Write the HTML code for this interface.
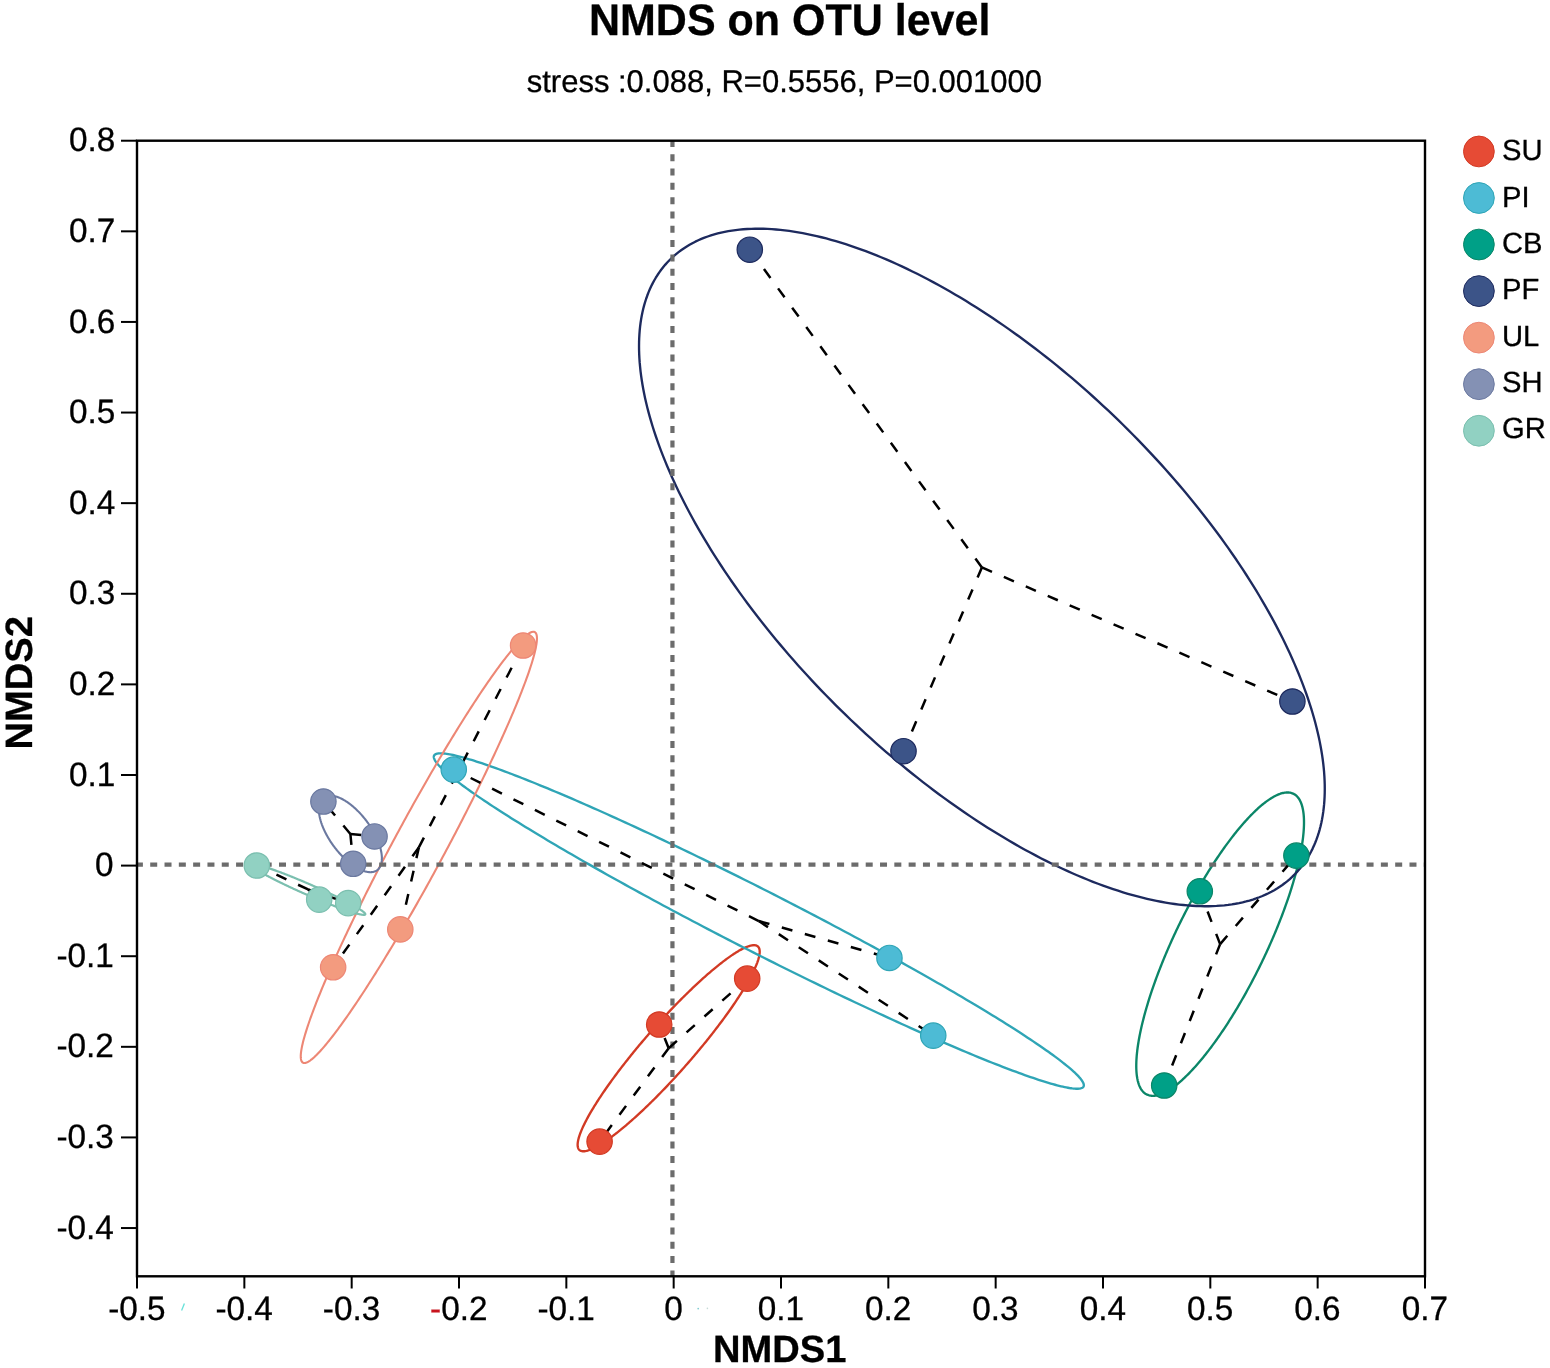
<!DOCTYPE html><html><head><meta charset="utf-8"><title>NMDS on OTU level</title><style>html,body{margin:0;padding:0;background:#fff;overflow:hidden;}svg{display:block;}text{font-family:"Liberation Sans",Arial,sans-serif;stroke:#000;stroke-width:0.3px;}</style></head><body>
<svg width="1550" height="1368" viewBox="0 0 1550 1368" text-rendering="geometricPrecision">
<rect width="1550" height="1368" fill="#fff"/>
<text transform="translate(589,34.9) scale(1,1.027)" font-size="43" font-weight="bold" fill="#000">NMDS on OTU level</text>
<text transform="translate(526.7,91.6) scale(1,1.015)" font-size="31" fill="#000">stress :0.088, R=0.5556, P=0.001000</text>
<path d="M759.70,951.71 L759.69,952.29 L759.66,952.89 L759.60,953.51 L759.52,954.16 L759.42,954.84 L759.30,955.53 L759.15,956.25 L758.98,956.99 L758.79,957.75 L758.58,958.54 L758.35,959.35 L758.09,960.18 L757.81,961.03 L757.51,961.90 L757.19,962.80 L756.84,963.71 L756.48,964.65 L756.09,965.61 L755.68,966.58 L755.25,967.58 L754.79,968.60 L754.32,969.63 L753.83,970.69 L753.31,971.77 L752.77,972.86 L752.21,973.97 L751.64,975.11 L751.04,976.25 L750.42,977.42 L749.78,978.61 L749.12,979.81 L748.44,981.03 L747.74,982.26 L747.02,983.51 L746.29,984.78 L745.53,986.06 L744.75,987.36 L743.96,988.68 L743.15,990.01 L742.32,991.35 L741.47,992.70 L740.60,994.07 L739.71,995.46 L738.81,996.86 L737.89,998.26 L736.95,999.69 L736.00,1001.12 L735.03,1002.57 L734.04,1004.02 L733.04,1005.49 L732.02,1006.97 L730.98,1008.46 L729.93,1009.95 L728.87,1011.46 L727.79,1012.98 L726.69,1014.50 L725.59,1016.04 L724.46,1017.58 L723.33,1019.13 L722.18,1020.68 L721.01,1022.25 L719.84,1023.82 L718.65,1025.39 L717.45,1026.97 L716.23,1028.56 L715.01,1030.15 L713.77,1031.75 L712.52,1033.35 L711.26,1034.95 L710.00,1036.56 L708.72,1038.17 L707.43,1039.78 L706.13,1041.39 L704.82,1043.01 L703.50,1044.63 L702.18,1046.24 L700.85,1047.86 L699.50,1049.48 L698.15,1051.10 L696.80,1052.72 L695.43,1054.33 L694.06,1055.95 L692.69,1057.56 L691.31,1059.17 L689.92,1060.78 L688.53,1062.38 L687.13,1063.99 L685.72,1065.58 L684.32,1067.18 L682.91,1068.77 L681.49,1070.35 L680.08,1071.93 L678.66,1073.50 L677.23,1075.07 L675.81,1076.63 L674.38,1078.18 L672.96,1079.72 L671.53,1081.26 L670.10,1082.79 L668.67,1084.31 L667.24,1085.82 L665.81,1087.32 L664.38,1088.82 L662.95,1090.30 L661.52,1091.77 L660.10,1093.23 L658.68,1094.68 L657.26,1096.12 L655.84,1097.55 L654.43,1098.97 L653.02,1100.37 L651.61,1101.76 L650.21,1103.13 L648.81,1104.50 L647.41,1105.85 L646.03,1107.18 L644.64,1108.50 L643.27,1109.81 L641.90,1111.10 L640.54,1112.37 L639.18,1113.63 L637.83,1114.87 L636.49,1116.10 L635.15,1117.31 L633.83,1118.50 L632.51,1119.68 L631.20,1120.84 L629.91,1121.98 L628.62,1123.10 L627.34,1124.20 L626.07,1125.28 L624.81,1126.35 L623.56,1127.40 L622.33,1128.42 L621.10,1129.43 L619.89,1130.42 L618.69,1131.38 L617.50,1132.33 L616.32,1133.25 L615.16,1134.16 L614.01,1135.04 L612.87,1135.90 L611.75,1136.74 L610.64,1137.56 L609.54,1138.35 L608.46,1139.13 L607.40,1139.88 L606.35,1140.61 L605.31,1141.31 L604.29,1142.00 L603.29,1142.66 L602.30,1143.29 L601.33,1143.91 L600.38,1144.50 L599.44,1145.06 L598.52,1145.60 L597.62,1146.12 L596.73,1146.62 L595.87,1147.08 L595.02,1147.53 L594.19,1147.95 L593.37,1148.35 L592.58,1148.72 L591.80,1149.06 L591.05,1149.39 L590.31,1149.68 L589.59,1149.95 L588.89,1150.20 L588.21,1150.42 L587.55,1150.62 L586.91,1150.79 L586.30,1150.93 L585.70,1151.05 L585.12,1151.15 L584.56,1151.22 L584.02,1151.26 L583.51,1151.28 L583.01,1151.27 L582.54,1151.24 L582.09,1151.18 L581.66,1151.10 L581.25,1150.99 L580.86,1150.86 L580.49,1150.70 L580.15,1150.51 L579.82,1150.30 L579.52,1150.07 L579.24,1149.81 L578.99,1149.52 L578.75,1149.21 L578.54,1148.88 L578.35,1148.52 L578.18,1148.14 L578.04,1147.73 L577.91,1147.29 L577.81,1146.83 L577.73,1146.35 L577.68,1145.84 L577.64,1145.31 L577.63,1144.76 L577.64,1144.18 L577.68,1143.58 L577.73,1142.95 L577.81,1142.30 L577.91,1141.63 L578.04,1140.94 L578.18,1140.22 L578.35,1139.48 L578.54,1138.71 L578.75,1137.93 L578.99,1137.12 L579.24,1136.29 L579.52,1135.44 L579.82,1134.56 L580.15,1133.67 L580.49,1132.75 L580.86,1131.82 L581.25,1130.86 L581.66,1129.88 L582.09,1128.89 L582.54,1127.87 L583.01,1126.83 L583.51,1125.78 L584.02,1124.70 L584.56,1123.61 L585.12,1122.49 L585.70,1121.36 L586.30,1120.21 L586.91,1119.04 L587.55,1117.86 L588.21,1116.66 L588.89,1115.44 L589.59,1114.20 L590.31,1112.95 L591.05,1111.69 L591.80,1110.40 L592.58,1109.10 L593.37,1107.79 L594.19,1106.46 L595.02,1105.12 L595.87,1103.76 L596.73,1102.39 L597.62,1101.01 L598.52,1099.61 L599.44,1098.20 L600.38,1096.78 L601.33,1095.35 L602.30,1093.90 L603.29,1092.44 L604.29,1090.98 L605.31,1089.50 L606.35,1088.01 L607.40,1086.51 L608.46,1085.01 L609.54,1083.49 L610.64,1081.96 L611.75,1080.43 L612.87,1078.89 L614.01,1077.34 L615.16,1075.78 L616.32,1074.22 L617.50,1072.65 L618.69,1071.08 L619.89,1069.49 L621.10,1067.91 L622.33,1066.32 L623.56,1064.72 L624.81,1063.12 L626.07,1061.52 L627.34,1059.91 L628.62,1058.30 L629.91,1056.69 L631.20,1055.07 L632.51,1053.46 L633.83,1051.84 L635.15,1050.22 L636.49,1048.61 L637.83,1046.99 L639.18,1045.37 L640.54,1043.75 L641.90,1042.13 L643.27,1040.52 L644.64,1038.91 L646.03,1037.29 L647.41,1035.69 L648.81,1034.08 L650.21,1032.48 L651.61,1030.88 L653.02,1029.29 L654.43,1027.70 L655.84,1026.12 L657.26,1024.54 L658.68,1022.97 L660.10,1021.40 L661.52,1019.84 L662.95,1018.29 L664.38,1016.74 L665.81,1015.21 L667.24,1013.68 L668.67,1012.16 L670.10,1010.64 L671.53,1009.14 L672.96,1007.65 L674.38,1006.17 L675.81,1004.69 L677.23,1003.23 L678.66,1001.78 L680.08,1000.34 L681.49,998.92 L682.91,997.50 L684.32,996.10 L685.72,994.71 L687.13,993.33 L688.53,991.97 L689.92,990.62 L691.31,989.28 L692.69,987.96 L694.06,986.66 L695.43,985.37 L696.80,984.09 L698.15,982.84 L699.50,981.59 L700.85,980.37 L702.18,979.16 L703.50,977.96 L704.82,976.79 L706.13,975.63 L707.43,974.49 L708.72,973.37 L710.00,972.27 L711.26,971.18 L712.52,970.12 L713.77,969.07 L715.01,968.04 L716.23,967.04 L717.45,966.05 L718.65,965.09 L719.84,964.14 L721.01,963.21 L722.18,962.31 L723.33,961.43 L724.46,960.57 L725.59,959.73 L726.69,958.91 L727.79,958.11 L728.87,957.34 L729.93,956.59 L730.98,955.86 L732.02,955.15 L733.04,954.47 L734.04,953.81 L735.03,953.17 L736.00,952.56 L736.95,951.97 L737.89,951.40 L738.81,950.86 L739.71,950.34 L740.60,949.85 L741.47,949.38 L742.32,948.94 L743.15,948.52 L743.96,948.12 L744.75,947.75 L745.53,947.40 L746.29,947.08 L747.02,946.78 L747.74,946.51 L748.44,946.27 L749.12,946.05 L749.78,945.85 L750.42,945.68 L751.04,945.53 L751.64,945.41 L752.21,945.32 L752.77,945.25 L753.31,945.21 L753.83,945.19 L754.32,945.19 L754.79,945.23 L755.25,945.28 L755.68,945.37 L756.09,945.48 L756.48,945.61 L756.84,945.77 L757.19,945.95 L757.51,946.16 L757.81,946.40 L758.09,946.66 L758.35,946.94 L758.58,947.25 L758.79,947.59 L758.98,947.95 L759.15,948.33 L759.30,948.74 L759.42,949.17 L759.52,949.63 L759.60,950.12 L759.66,950.62 L759.69,951.15 L759.70,951.71Z" fill="none" stroke="#D23A24" stroke-width="2.35" stroke-linejoin="round"/>
<path d="M1083.83,1085.23 L1083.79,1085.75 L1083.67,1086.23 L1083.47,1086.66 L1083.19,1087.05 L1082.83,1087.41 L1082.39,1087.72 L1081.87,1087.99 L1081.27,1088.22 L1080.59,1088.41 L1079.83,1088.56 L1078.99,1088.66 L1078.07,1088.73 L1077.08,1088.75 L1076.00,1088.73 L1074.85,1088.67 L1073.62,1088.57 L1072.31,1088.43 L1070.93,1088.24 L1069.46,1088.02 L1067.92,1087.75 L1066.31,1087.44 L1064.62,1087.10 L1062.85,1086.71 L1061.01,1086.28 L1059.09,1085.81 L1057.10,1085.29 L1055.04,1084.74 L1052.90,1084.15 L1050.69,1083.52 L1048.41,1082.84 L1046.05,1082.13 L1043.63,1081.38 L1041.13,1080.59 L1038.57,1079.76 L1035.94,1078.88 L1033.24,1077.98 L1030.47,1077.03 L1027.63,1076.04 L1024.73,1075.02 L1021.76,1073.95 L1018.73,1072.85 L1015.63,1071.71 L1012.47,1070.54 L1009.24,1069.33 L1005.96,1068.08 L1002.61,1066.79 L999.21,1065.47 L995.74,1064.11 L992.22,1062.72 L988.64,1061.30 L985.00,1059.83 L981.30,1058.34 L977.56,1056.81 L973.75,1055.25 L969.90,1053.65 L965.99,1052.02 L962.03,1050.36 L958.02,1048.67 L953.96,1046.94 L949.86,1045.19 L945.70,1043.40 L941.50,1041.58 L937.26,1039.74 L932.97,1037.86 L928.64,1035.96 L924.26,1034.02 L919.85,1032.06 L915.39,1030.07 L910.90,1028.06 L906.37,1026.02 L901.80,1023.95 L897.20,1021.86 L892.56,1019.74 L887.90,1017.60 L883.19,1015.43 L878.46,1013.24 L873.70,1011.03 L868.91,1008.80 L864.09,1006.54 L859.25,1004.27 L854.38,1001.97 L849.49,999.65 L844.58,997.32 L839.64,994.96 L834.69,992.59 L829.72,990.20 L824.73,987.79 L819.72,985.36 L814.70,982.92 L809.66,980.47 L804.61,978.00 L799.55,975.51 L794.48,973.01 L789.40,970.50 L784.32,967.98 L779.22,965.44 L774.13,962.90 L769.03,960.34 L763.92,957.78 L758.82,955.20 L753.71,952.62 L748.61,950.03 L743.51,947.43 L738.41,944.83 L733.32,942.22 L728.23,939.60 L723.15,936.98 L718.08,934.36 L713.02,931.73 L707.97,929.10 L702.94,926.47 L697.92,923.83 L692.91,921.20 L687.92,918.56 L682.94,915.93 L677.99,913.30 L673.05,910.67 L668.14,908.04 L663.25,905.42 L658.38,902.80 L653.54,900.18 L648.72,897.57 L643.93,894.96 L639.17,892.36 L634.44,889.77 L629.74,887.19 L625.07,884.61 L620.43,882.05 L615.83,879.49 L611.26,876.94 L606.73,874.41 L602.24,871.88 L597.79,869.37 L593.37,866.87 L589.00,864.38 L584.67,861.91 L580.38,859.45 L576.13,857.01 L571.93,854.59 L567.78,852.18 L563.67,849.78 L559.61,847.41 L555.60,845.05 L551.64,842.71 L547.74,840.39 L543.88,838.09 L540.08,835.81 L536.33,833.55 L532.63,831.32 L529.00,829.10 L525.42,826.91 L521.89,824.74 L518.43,822.60 L515.02,820.48 L511.67,818.38 L508.39,816.31 L505.17,814.27 L502.00,812.25 L498.91,810.26 L495.87,808.30 L492.91,806.36 L490.00,804.45 L487.17,802.57 L484.40,800.72 L481.70,798.90 L479.06,797.12 L476.50,795.36 L474.00,793.63 L471.58,791.93 L469.23,790.27 L466.94,788.63 L464.73,787.03 L462.60,785.47 L460.53,783.93 L458.54,782.43 L456.63,780.97 L454.78,779.54 L453.02,778.14 L451.33,776.78 L449.71,775.46 L448.17,774.17 L446.71,772.91 L445.32,771.70 L444.01,770.52 L442.78,769.38 L441.63,768.27 L440.55,767.20 L439.56,766.17 L438.64,765.18 L437.80,764.23 L437.04,763.32 L436.36,762.44 L435.76,761.61 L435.24,760.81 L434.80,760.05 L434.44,759.33 L434.16,758.66 L433.96,758.02 L433.84,757.42 L433.80,756.87 L433.84,756.35 L433.96,755.87 L434.16,755.44 L434.44,755.05 L434.80,754.69 L435.24,754.38 L435.76,754.11 L436.36,753.88 L437.04,753.69 L437.80,753.54 L438.64,753.44 L439.56,753.37 L440.55,753.35 L441.63,753.37 L442.78,753.43 L444.01,753.53 L445.32,753.67 L446.71,753.86 L448.17,754.08 L449.71,754.35 L451.33,754.66 L453.02,755.00 L454.78,755.39 L456.63,755.82 L458.54,756.29 L460.53,756.81 L462.60,757.36 L464.73,757.95 L466.94,758.58 L469.23,759.26 L471.58,759.97 L474.00,760.72 L476.50,761.51 L479.06,762.34 L481.70,763.22 L484.40,764.12 L487.17,765.07 L490.00,766.06 L492.91,767.08 L495.87,768.15 L498.91,769.25 L502.00,770.39 L505.17,771.56 L508.39,772.77 L511.67,774.02 L515.02,775.31 L518.43,776.63 L521.89,777.99 L525.42,779.38 L529.00,780.80 L532.63,782.27 L536.33,783.76 L540.08,785.29 L543.88,786.85 L547.74,788.45 L551.64,790.08 L555.60,791.74 L559.61,793.43 L563.67,795.16 L567.78,796.91 L571.93,798.70 L576.13,800.52 L580.38,802.36 L584.67,804.24 L589.00,806.14 L593.37,808.08 L597.79,810.04 L602.24,812.03 L606.73,814.04 L611.26,816.08 L615.83,818.15 L620.43,820.24 L625.07,822.36 L629.74,824.50 L634.44,826.67 L639.17,828.86 L643.93,831.07 L648.72,833.30 L653.54,835.56 L658.38,837.83 L663.25,840.13 L668.14,842.45 L673.05,844.78 L677.99,847.14 L682.94,849.51 L687.92,851.90 L692.91,854.31 L697.92,856.74 L702.94,859.18 L707.97,861.63 L713.02,864.10 L718.08,866.59 L723.15,869.09 L728.23,871.60 L733.32,874.12 L738.41,876.66 L743.51,879.20 L748.61,881.76 L753.71,884.32 L758.82,886.90 L763.92,889.48 L769.03,892.07 L774.13,894.67 L779.22,897.27 L784.32,899.88 L789.40,902.50 L794.48,905.12 L799.55,907.74 L804.61,910.37 L809.66,913.00 L814.70,915.63 L819.72,918.27 L824.73,920.90 L829.72,923.54 L834.69,926.17 L839.64,928.80 L844.58,931.43 L849.49,934.06 L854.38,936.68 L859.25,939.30 L864.09,941.92 L868.91,944.53 L873.70,947.14 L878.46,949.74 L883.19,952.33 L887.90,954.91 L892.56,957.49 L897.20,960.05 L901.80,962.61 L906.37,965.16 L910.90,967.69 L915.39,970.22 L919.85,972.73 L924.26,975.23 L928.64,977.72 L932.97,980.19 L937.26,982.65 L941.50,985.09 L945.70,987.51 L949.86,989.92 L953.96,992.32 L958.02,994.69 L962.03,997.05 L965.99,999.39 L969.90,1001.71 L973.75,1004.01 L977.56,1006.29 L981.30,1008.55 L985.00,1010.78 L988.64,1013.00 L992.22,1015.19 L995.74,1017.36 L999.21,1019.50 L1002.61,1021.62 L1005.96,1023.72 L1009.24,1025.79 L1012.47,1027.83 L1015.63,1029.85 L1018.73,1031.84 L1021.76,1033.80 L1024.73,1035.74 L1027.63,1037.65 L1030.47,1039.53 L1033.24,1041.38 L1035.94,1043.20 L1038.57,1044.98 L1041.13,1046.74 L1043.63,1048.47 L1046.05,1050.17 L1048.41,1051.83 L1050.69,1053.47 L1052.90,1055.07 L1055.04,1056.63 L1057.10,1058.17 L1059.09,1059.67 L1061.01,1061.13 L1062.85,1062.56 L1064.62,1063.96 L1066.31,1065.32 L1067.92,1066.64 L1069.46,1067.93 L1070.93,1069.19 L1072.31,1070.40 L1073.62,1071.58 L1074.85,1072.72 L1076.00,1073.83 L1077.08,1074.90 L1078.07,1075.93 L1078.99,1076.92 L1079.83,1077.87 L1080.59,1078.78 L1081.27,1079.66 L1081.87,1080.49 L1082.39,1081.29 L1082.83,1082.05 L1083.19,1082.77 L1083.47,1083.44 L1083.67,1084.08 L1083.79,1084.68 L1083.83,1085.23Z" fill="none" stroke="#2FA5B6" stroke-width="2.35" stroke-linejoin="round"/>
<path d="M1304.00,822.39 L1303.99,823.83 L1303.96,825.30 L1303.91,826.79 L1303.83,828.32 L1303.74,829.87 L1303.63,831.45 L1303.49,833.06 L1303.34,834.70 L1303.16,836.36 L1302.97,838.05 L1302.75,839.76 L1302.51,841.51 L1302.26,843.27 L1301.98,845.06 L1301.68,846.88 L1301.36,848.72 L1301.03,850.59 L1300.67,852.47 L1300.29,854.38 L1299.89,856.31 L1299.48,858.27 L1299.04,860.24 L1298.58,862.24 L1298.11,864.25 L1297.61,866.29 L1297.10,868.34 L1296.57,870.42 L1296.02,872.51 L1295.45,874.62 L1294.86,876.74 L1294.25,878.88 L1293.62,881.04 L1292.98,883.22 L1292.32,885.41 L1291.64,887.61 L1290.94,889.83 L1290.23,892.06 L1289.50,894.30 L1288.75,896.56 L1287.98,898.83 L1287.20,901.11 L1286.40,903.40 L1285.58,905.70 L1284.75,908.01 L1283.90,910.33 L1283.04,912.65 L1282.16,914.99 L1281.27,917.33 L1280.36,919.68 L1279.43,922.03 L1278.50,924.39 L1277.54,926.76 L1276.58,929.13 L1275.59,931.50 L1274.60,933.87 L1273.59,936.25 L1272.57,938.63 L1271.53,941.01 L1270.49,943.40 L1269.43,945.78 L1268.36,948.16 L1267.27,950.54 L1266.18,952.92 L1265.07,955.30 L1263.95,957.67 L1262.82,960.05 L1261.68,962.41 L1260.54,964.78 L1259.38,967.13 L1258.21,969.49 L1257.03,971.83 L1255.84,974.17 L1254.64,976.50 L1253.44,978.83 L1252.23,981.14 L1251.01,983.45 L1249.78,985.74 L1248.54,988.03 L1247.30,990.31 L1246.05,992.57 L1244.79,994.82 L1243.53,997.06 L1242.26,999.29 L1240.99,1001.50 L1239.71,1003.70 L1238.43,1005.88 L1237.14,1008.05 L1235.85,1010.20 L1234.55,1012.34 L1233.25,1014.46 L1231.95,1016.56 L1230.64,1018.65 L1229.34,1020.71 L1228.03,1022.76 L1226.71,1024.79 L1225.40,1026.79 L1224.08,1028.78 L1222.77,1030.75 L1221.45,1032.69 L1220.13,1034.62 L1218.82,1036.52 L1217.50,1038.40 L1216.18,1040.25 L1214.87,1042.08 L1213.55,1043.89 L1212.24,1045.67 L1210.93,1047.43 L1209.62,1049.16 L1208.32,1050.87 L1207.01,1052.55 L1205.71,1054.20 L1204.42,1055.83 L1203.13,1057.42 L1201.84,1058.99 L1200.56,1060.54 L1199.28,1062.05 L1198.00,1063.53 L1196.74,1064.99 L1195.47,1066.41 L1194.22,1067.81 L1192.97,1069.17 L1191.73,1070.51 L1190.49,1071.81 L1189.26,1073.08 L1188.04,1074.32 L1186.83,1075.52 L1185.62,1076.70 L1184.43,1077.84 L1183.24,1078.95 L1182.06,1080.02 L1180.89,1081.06 L1179.73,1082.07 L1178.58,1083.05 L1177.44,1083.99 L1176.31,1084.89 L1175.20,1085.76 L1174.09,1086.60 L1172.99,1087.40 L1171.91,1088.16 L1170.84,1088.89 L1169.78,1089.59 L1168.73,1090.24 L1167.70,1090.87 L1166.68,1091.45 L1165.67,1092.00 L1164.67,1092.51 L1163.69,1092.99 L1162.72,1093.43 L1161.77,1093.83 L1160.83,1094.20 L1159.91,1094.53 L1159.00,1094.82 L1158.10,1095.07 L1157.23,1095.29 L1156.36,1095.47 L1155.51,1095.61 L1154.68,1095.72 L1153.87,1095.78 L1153.07,1095.81 L1152.29,1095.81 L1151.52,1095.76 L1150.77,1095.68 L1150.04,1095.56 L1149.32,1095.40 L1148.63,1095.21 L1147.95,1094.98 L1147.29,1094.71 L1146.64,1094.40 L1146.02,1094.06 L1145.41,1093.68 L1144.82,1093.27 L1144.25,1092.81 L1143.70,1092.32 L1143.17,1091.80 L1142.65,1091.23 L1142.16,1090.63 L1141.68,1090.00 L1141.23,1089.33 L1140.79,1088.62 L1140.37,1087.87 L1139.98,1087.10 L1139.60,1086.28 L1139.24,1085.43 L1138.90,1084.55 L1138.59,1083.63 L1138.29,1082.68 L1138.01,1081.69 L1137.75,1080.67 L1137.52,1079.62 L1137.30,1078.53 L1137.11,1077.41 L1136.93,1076.25 L1136.77,1075.07 L1136.64,1073.85 L1136.53,1072.60 L1136.43,1071.31 L1136.36,1070.00 L1136.31,1068.65 L1136.28,1067.28 L1136.27,1065.87 L1136.28,1064.44 L1136.31,1062.97 L1136.36,1061.47 L1136.43,1059.95 L1136.53,1058.40 L1136.64,1056.82 L1136.77,1055.21 L1136.93,1053.57 L1137.11,1051.91 L1137.30,1050.22 L1137.52,1048.50 L1137.75,1046.76 L1138.01,1044.99 L1138.29,1043.20 L1138.59,1041.39 L1138.90,1039.55 L1139.24,1037.68 L1139.60,1035.79 L1139.98,1033.88 L1140.37,1031.95 L1140.79,1030.00 L1141.23,1028.02 L1141.68,1026.03 L1142.16,1024.01 L1142.65,1021.98 L1143.17,1019.92 L1143.70,1017.85 L1144.25,1015.76 L1144.82,1013.65 L1145.41,1011.52 L1146.02,1009.38 L1146.64,1007.22 L1147.29,1005.05 L1147.95,1002.86 L1148.63,1000.66 L1149.32,998.44 L1150.04,996.21 L1150.77,993.96 L1151.52,991.71 L1152.29,989.44 L1153.07,987.16 L1153.87,984.87 L1154.68,982.57 L1155.51,980.26 L1156.36,977.94 L1157.23,975.61 L1158.10,973.28 L1159.00,970.94 L1159.91,968.59 L1160.83,966.23 L1161.77,963.87 L1162.72,961.51 L1163.69,959.14 L1164.67,956.77 L1165.67,954.39 L1166.68,952.01 L1167.70,949.63 L1168.73,947.25 L1169.78,944.87 L1170.84,942.49 L1171.91,940.10 L1172.99,937.72 L1174.09,935.34 L1175.20,932.97 L1176.31,930.59 L1177.44,928.22 L1178.58,925.85 L1179.73,923.49 L1180.89,921.13 L1182.06,918.78 L1183.24,916.43 L1184.43,914.10 L1185.62,911.76 L1186.83,909.44 L1188.04,907.12 L1189.26,904.82 L1190.49,902.52 L1191.73,900.24 L1192.97,897.96 L1194.22,895.70 L1195.47,893.45 L1196.74,891.21 L1198.00,888.98 L1199.28,886.77 L1200.56,884.57 L1201.84,882.39 L1203.13,880.22 L1204.42,878.06 L1205.71,875.93 L1207.01,873.81 L1208.32,871.71 L1209.62,869.62 L1210.93,867.56 L1212.24,865.51 L1213.55,863.48 L1214.87,861.47 L1216.18,859.48 L1217.50,857.52 L1218.82,855.57 L1220.13,853.65 L1221.45,851.75 L1222.77,849.87 L1224.08,848.02 L1225.40,846.18 L1226.71,844.38 L1228.03,842.59 L1229.34,840.84 L1230.64,839.11 L1231.95,837.40 L1233.25,835.72 L1234.55,834.07 L1235.85,832.44 L1237.14,830.84 L1238.43,829.27 L1239.71,827.73 L1240.99,826.22 L1242.26,824.73 L1243.53,823.28 L1244.79,821.85 L1246.05,820.46 L1247.30,819.09 L1248.54,817.76 L1249.78,816.46 L1251.01,815.19 L1252.23,813.95 L1253.44,812.74 L1254.64,811.57 L1255.84,810.43 L1257.03,809.32 L1258.21,808.24 L1259.38,807.20 L1260.54,806.19 L1261.68,805.22 L1262.82,804.28 L1263.95,803.38 L1265.07,802.50 L1266.18,801.67 L1267.27,800.87 L1268.36,800.10 L1269.43,799.37 L1270.49,798.68 L1271.53,798.02 L1272.57,797.40 L1273.59,796.82 L1274.60,796.27 L1275.59,795.75 L1276.58,795.28 L1277.54,794.84 L1278.50,794.44 L1279.43,794.07 L1280.36,793.74 L1281.27,793.45 L1282.16,793.19 L1283.04,792.98 L1283.90,792.80 L1284.75,792.66 L1285.58,792.55 L1286.40,792.48 L1287.20,792.45 L1287.98,792.46 L1288.75,792.50 L1289.50,792.59 L1290.23,792.71 L1290.94,792.86 L1291.64,793.06 L1292.32,793.29 L1292.98,793.56 L1293.62,793.86 L1294.25,794.20 L1294.86,794.58 L1295.45,795.00 L1296.02,795.45 L1296.57,795.94 L1297.10,796.47 L1297.61,797.03 L1298.11,797.63 L1298.58,798.27 L1299.04,798.94 L1299.48,799.65 L1299.89,800.39 L1300.29,801.17 L1300.67,801.98 L1301.03,802.83 L1301.36,803.72 L1301.68,804.64 L1301.98,805.59 L1302.26,806.57 L1302.51,807.60 L1302.75,808.65 L1302.97,809.74 L1303.16,810.86 L1303.34,812.01 L1303.49,813.20 L1303.63,814.42 L1303.74,815.67 L1303.83,816.95 L1303.91,818.27 L1303.96,819.61 L1303.99,820.99 L1304.00,822.39Z" fill="none" stroke="#0B8668" stroke-width="2.35" stroke-linejoin="round"/>
<path d="M1324.77,788.77 L1324.73,792.78 L1324.60,796.72 L1324.39,800.61 L1324.10,804.44 L1323.71,808.21 L1323.25,811.93 L1322.70,815.58 L1322.07,819.17 L1321.35,822.70 L1320.55,826.17 L1319.67,829.57 L1318.70,832.91 L1317.65,836.19 L1316.51,839.39 L1315.30,842.53 L1314.00,845.61 L1312.62,848.61 L1311.16,851.54 L1309.61,854.41 L1307.99,857.20 L1306.29,859.92 L1304.50,862.57 L1302.64,865.15 L1300.69,867.65 L1298.67,870.08 L1296.57,872.43 L1294.39,874.71 L1292.14,876.92 L1289.81,879.04 L1287.40,881.09 L1284.92,883.06 L1282.36,884.96 L1279.73,886.78 L1277.02,888.51 L1274.25,890.17 L1271.40,891.75 L1268.47,893.25 L1265.48,894.67 L1262.42,896.01 L1259.29,897.26 L1256.09,898.44 L1252.82,899.53 L1249.49,900.54 L1246.09,901.47 L1242.62,902.32 L1239.09,903.08 L1235.50,903.77 L1231.84,904.37 L1228.13,904.88 L1224.35,905.31 L1220.51,905.66 L1216.61,905.93 L1212.66,906.11 L1208.65,906.21 L1204.58,906.22 L1200.45,906.15 L1196.28,906.00 L1192.05,905.77 L1187.77,905.45 L1183.43,905.04 L1179.05,904.56 L1174.62,903.99 L1170.14,903.34 L1165.62,902.60 L1161.05,901.78 L1156.44,900.88 L1151.78,899.90 L1147.08,898.84 L1142.34,897.69 L1137.56,896.46 L1132.74,895.15 L1127.89,893.76 L1123.00,892.29 L1118.07,890.74 L1113.11,889.11 L1108.12,887.40 L1103.10,885.62 L1098.04,883.75 L1092.96,881.80 L1087.85,879.78 L1082.72,877.68 L1077.56,875.51 L1072.37,873.25 L1067.17,870.93 L1061.94,868.52 L1056.70,866.05 L1051.43,863.50 L1046.15,860.87 L1040.85,858.18 L1035.54,855.41 L1030.21,852.57 L1024.87,849.66 L1019.52,846.68 L1014.17,843.63 L1008.80,840.52 L1003.43,837.34 L998.05,834.09 L992.67,830.77 L987.29,827.39 L981.90,823.95 L976.51,820.44 L971.13,816.87 L965.75,813.24 L960.37,809.54 L955.00,805.79 L949.63,801.98 L944.28,798.11 L938.93,794.19 L933.59,790.21 L928.26,786.17 L922.95,782.08 L917.65,777.93 L912.37,773.74 L907.10,769.49 L901.86,765.20 L896.63,760.85 L891.43,756.46 L886.24,752.02 L881.08,747.53 L875.95,743.01 L870.84,738.43 L865.76,733.82 L860.70,729.16 L855.68,724.47 L850.69,719.73 L845.73,714.96 L840.80,710.15 L835.91,705.31 L831.06,700.43 L826.24,695.52 L821.46,690.58 L816.72,685.61 L812.02,680.60 L807.36,675.57 L802.75,670.52 L798.18,665.44 L793.66,660.33 L789.18,655.20 L784.75,650.05 L780.37,644.88 L776.03,639.69 L771.75,634.48 L767.52,629.26 L763.35,624.02 L759.22,618.77 L755.15,613.50 L751.14,608.22 L747.19,602.94 L743.29,597.64 L739.45,592.34 L735.67,587.03 L731.96,581.71 L728.30,576.39 L724.71,571.07 L721.18,565.75 L717.71,560.43 L714.31,555.11 L710.98,549.80 L707.71,544.49 L704.51,539.18 L701.38,533.88 L698.32,528.59 L695.33,523.31 L692.40,518.04 L689.55,512.78 L686.78,507.54 L684.07,502.31 L681.44,497.09 L678.88,491.90 L676.40,486.72 L673.99,481.56 L671.66,476.43 L669.41,471.31 L667.23,466.22 L665.13,461.16 L663.11,456.12 L661.16,451.11 L659.30,446.12 L657.51,441.17 L655.81,436.25 L654.19,431.36 L652.64,426.50 L651.18,421.68 L649.80,416.90 L648.50,412.15 L647.29,407.44 L646.15,402.77 L645.10,398.14 L644.13,393.55 L643.25,389.01 L642.45,384.51 L641.73,380.05 L641.10,375.64 L640.55,371.28 L640.09,366.96 L639.70,362.70 L639.41,358.49 L639.20,354.32 L639.07,350.22 L639.03,346.16 L639.07,342.16 L639.20,338.21 L639.41,334.32 L639.70,330.49 L640.09,326.72 L640.55,323.00 L641.10,319.35 L641.73,315.76 L642.45,312.23 L643.25,308.76 L644.13,305.36 L645.10,302.02 L646.15,298.75 L647.29,295.54 L648.50,292.40 L649.80,289.33 L651.18,286.32 L652.64,283.39 L654.19,280.53 L655.81,277.73 L657.51,275.01 L659.30,272.36 L661.16,269.79 L663.11,267.28 L665.13,264.85 L667.23,262.50 L669.41,260.22 L671.66,258.02 L673.99,255.89 L676.40,253.84 L678.88,251.87 L681.44,249.97 L684.07,248.16 L686.78,246.42 L689.55,244.76 L692.40,243.18 L695.33,241.68 L698.32,240.26 L701.38,238.93 L704.51,237.67 L707.71,236.50 L710.98,235.40 L714.31,234.39 L717.71,233.46 L721.18,232.61 L724.71,231.85 L728.30,231.17 L731.96,230.57 L735.67,230.05 L739.45,229.62 L743.29,229.27 L747.19,229.01 L751.14,228.82 L755.15,228.73 L759.22,228.71 L763.35,228.78 L767.52,228.93 L771.75,229.17 L776.03,229.49 L780.37,229.89 L784.75,230.38 L789.18,230.94 L793.66,231.60 L798.18,232.33 L802.75,233.15 L807.36,234.05 L812.02,235.03 L816.72,236.10 L821.46,237.24 L826.24,238.47 L831.06,239.78 L835.91,241.17 L840.80,242.64 L845.73,244.19 L850.69,245.82 L855.68,247.53 L860.70,249.32 L865.76,251.18 L870.84,253.13 L875.95,255.15 L881.08,257.25 L886.24,259.43 L891.43,261.68 L896.63,264.01 L901.86,266.41 L907.10,268.89 L912.37,271.44 L917.65,274.06 L922.95,276.76 L928.26,279.52 L933.59,282.36 L938.93,285.27 L944.28,288.25 L949.63,291.30 L955.00,294.41 L960.37,297.60 L965.75,300.85 L971.13,304.16 L976.51,307.54 L981.90,310.99 L987.29,314.49 L992.67,318.06 L998.05,321.70 L1003.43,325.39 L1008.80,329.14 L1014.17,332.95 L1019.52,336.82 L1024.87,340.75 L1030.21,344.73 L1035.54,348.76 L1040.85,352.86 L1046.15,357.00 L1051.43,361.19 L1056.70,365.44 L1061.94,369.74 L1067.17,374.08 L1072.37,378.47 L1077.56,382.91 L1082.72,387.40 L1087.85,391.93 L1092.96,396.50 L1098.04,401.12 L1103.10,405.77 L1108.12,410.47 L1113.11,415.20 L1118.07,419.97 L1123.00,424.78 L1127.89,429.62 L1132.74,434.50 L1137.56,439.41 L1142.34,444.36 L1147.08,449.33 L1151.78,454.33 L1156.44,459.36 L1161.05,464.41 L1165.62,469.50 L1170.14,474.60 L1174.62,479.73 L1179.05,484.88 L1183.43,490.05 L1187.77,495.24 L1192.05,500.45 L1196.28,505.67 L1200.45,510.91 L1204.58,516.17 L1208.65,521.43 L1212.66,526.71 L1216.61,532.00 L1220.51,537.29 L1224.35,542.60 L1228.13,547.91 L1231.84,553.22 L1235.50,558.54 L1239.09,563.86 L1242.62,569.18 L1246.09,574.50 L1249.49,579.82 L1252.82,585.14 L1256.09,590.45 L1259.29,595.75 L1262.42,601.05 L1265.48,606.34 L1268.47,611.62 L1271.40,616.89 L1274.25,622.15 L1277.02,627.40 L1279.73,632.63 L1282.36,637.84 L1284.92,643.04 L1287.40,648.21 L1289.81,653.37 L1292.14,658.51 L1294.39,663.62 L1296.57,668.71 L1298.67,673.78 L1300.69,678.82 L1302.64,683.83 L1304.50,688.81 L1306.29,693.76 L1307.99,698.69 L1309.61,703.58 L1311.16,708.43 L1312.62,713.25 L1314.00,718.04 L1315.30,722.79 L1316.51,727.49 L1317.65,732.17 L1318.70,736.79 L1319.67,741.38 L1320.55,745.93 L1321.35,750.43 L1322.07,754.88 L1322.70,759.29 L1323.25,763.65 L1323.71,767.97 L1324.10,772.23 L1324.39,776.45 L1324.60,780.61 L1324.73,784.72 L1324.77,788.77Z" fill="none" stroke="#1D2A5E" stroke-width="2.35" stroke-linejoin="round"/>
<path d="M536.94,638.38 L536.93,639.24 L536.89,640.15 L536.81,641.11 L536.71,642.12 L536.58,643.18 L536.42,644.29 L536.23,645.45 L536.01,646.66 L535.77,647.92 L535.49,649.23 L535.18,650.59 L534.85,652.00 L534.49,653.46 L534.10,654.96 L533.68,656.51 L533.23,658.11 L532.76,659.76 L532.25,661.45 L531.72,663.19 L531.16,664.97 L530.58,666.80 L529.96,668.67 L529.32,670.59 L528.65,672.55 L527.95,674.55 L527.23,676.60 L526.48,678.69 L525.70,680.81 L524.90,682.99 L524.07,685.20 L523.22,687.45 L522.34,689.74 L521.43,692.07 L520.50,694.44 L519.54,696.84 L518.56,699.29 L517.55,701.77 L516.52,704.28 L515.47,706.83 L514.39,709.42 L513.29,712.04 L512.16,714.69 L511.01,717.38 L509.84,720.09 L508.65,722.84 L507.43,725.62 L506.20,728.43 L504.94,731.27 L503.66,734.14 L502.35,737.04 L501.03,739.96 L499.69,742.91 L498.33,745.89 L496.95,748.89 L495.55,751.91 L494.13,754.96 L492.69,758.03 L491.23,761.12 L489.76,764.24 L488.26,767.37 L486.75,770.53 L485.23,773.70 L483.69,776.89 L482.13,780.10 L480.55,783.33 L478.96,786.57 L477.36,789.83 L475.74,793.10 L474.11,796.38 L472.46,799.68 L470.80,802.99 L469.13,806.31 L467.45,809.64 L465.75,812.98 L464.04,816.33 L462.32,819.68 L460.59,823.04 L458.85,826.41 L457.10,829.78 L455.34,833.16 L453.57,836.54 L451.80,839.93 L450.01,843.31 L448.22,846.70 L446.42,850.09 L444.61,853.47 L442.80,856.86 L440.98,860.24 L439.15,863.62 L437.32,866.99 L435.49,870.37 L433.65,873.73 L431.81,877.09 L429.96,880.44 L428.12,883.78 L426.27,887.12 L424.41,890.44 L422.56,893.75 L420.70,897.05 L418.85,900.34 L417.00,903.62 L415.14,906.88 L413.29,910.13 L411.43,913.36 L409.58,916.58 L407.74,919.78 L405.89,922.96 L404.05,926.12 L402.21,929.27 L400.38,932.39 L398.55,935.49 L396.72,938.57 L394.90,941.63 L393.09,944.67 L391.28,947.68 L389.48,950.66 L387.69,953.62 L385.90,956.56 L384.13,959.46 L382.36,962.34 L380.60,965.20 L378.85,968.02 L377.11,970.81 L375.38,973.57 L373.66,976.30 L371.95,979.00 L370.25,981.67 L368.57,984.30 L366.90,986.90 L365.24,989.47 L363.59,992.00 L361.96,994.49 L360.34,996.95 L358.74,999.37 L357.15,1001.76 L355.57,1004.10 L354.01,1006.41 L352.47,1008.68 L350.95,1010.90 L349.44,1013.09 L347.94,1015.24 L346.47,1017.34 L345.01,1019.41 L343.57,1021.43 L342.15,1023.41 L340.75,1025.34 L339.37,1027.23 L338.01,1029.08 L336.67,1030.88 L335.35,1032.64 L334.04,1034.35 L332.76,1036.01 L331.50,1037.63 L330.27,1039.20 L329.05,1040.73 L327.86,1042.20 L326.69,1043.63 L325.54,1045.01 L324.41,1046.34 L323.31,1047.62 L322.23,1048.85 L321.18,1050.04 L320.15,1051.17 L319.14,1052.25 L318.16,1053.28 L317.20,1054.26 L316.27,1055.19 L315.36,1056.07 L314.48,1056.90 L313.63,1057.68 L312.80,1058.40 L312.00,1059.07 L311.22,1059.69 L310.47,1060.26 L309.75,1060.77 L309.05,1061.23 L308.38,1061.64 L307.74,1062.00 L307.12,1062.30 L306.54,1062.55 L305.98,1062.75 L305.45,1062.89 L304.94,1062.98 L304.47,1063.02 L304.02,1063.01 L303.60,1062.94 L303.21,1062.81 L302.85,1062.64 L302.52,1062.41 L302.21,1062.13 L301.93,1061.80 L301.69,1061.41 L301.47,1060.97 L301.28,1060.48 L301.12,1059.93 L300.99,1059.33 L300.89,1058.68 L300.81,1057.98 L300.77,1057.23 L300.76,1056.42 L300.77,1055.56 L300.81,1054.65 L300.89,1053.69 L300.99,1052.68 L301.12,1051.62 L301.28,1050.51 L301.47,1049.35 L301.69,1048.14 L301.93,1046.88 L302.21,1045.57 L302.52,1044.21 L302.85,1042.80 L303.21,1041.34 L303.60,1039.84 L304.02,1038.29 L304.47,1036.69 L304.94,1035.04 L305.45,1033.35 L305.98,1031.61 L306.54,1029.83 L307.12,1028.00 L307.74,1026.13 L308.38,1024.21 L309.05,1022.25 L309.75,1020.25 L310.47,1018.20 L311.22,1016.11 L312.00,1013.99 L312.80,1011.81 L313.63,1009.60 L314.48,1007.35 L315.36,1005.06 L316.27,1002.73 L317.20,1000.36 L318.16,997.96 L319.14,995.51 L320.15,993.03 L321.18,990.52 L322.23,987.97 L323.31,985.38 L324.41,982.76 L325.54,980.11 L326.69,977.42 L327.86,974.71 L329.05,971.96 L330.27,969.18 L331.50,966.37 L332.76,963.53 L334.04,960.66 L335.35,957.76 L336.67,954.84 L338.01,951.89 L339.37,948.91 L340.75,945.91 L342.15,942.89 L343.57,939.84 L345.01,936.77 L346.47,933.68 L347.94,930.56 L349.44,927.43 L350.95,924.27 L352.47,921.10 L354.01,917.91 L355.57,914.70 L357.15,911.47 L358.74,908.23 L360.34,904.97 L361.96,901.70 L363.59,898.42 L365.24,895.12 L366.90,891.81 L368.57,888.49 L370.25,885.16 L371.95,881.82 L373.66,878.47 L375.38,875.12 L377.11,871.76 L378.85,868.39 L380.60,865.02 L382.36,861.64 L384.13,858.26 L385.90,854.87 L387.69,851.49 L389.48,848.10 L391.28,844.71 L393.09,841.33 L394.90,837.94 L396.72,834.56 L398.55,831.18 L400.38,827.81 L402.21,824.43 L404.05,821.07 L405.89,817.71 L407.74,814.36 L409.58,811.02 L411.43,807.68 L413.29,804.36 L415.14,801.05 L417.00,797.75 L418.85,794.46 L420.70,791.18 L422.56,787.92 L424.41,784.67 L426.27,781.44 L428.12,778.22 L429.96,775.02 L431.81,771.84 L433.65,768.68 L435.49,765.53 L437.32,762.41 L439.15,759.31 L440.98,756.23 L442.80,753.17 L444.61,750.13 L446.42,747.12 L448.22,744.14 L450.01,741.18 L451.80,738.24 L453.57,735.34 L455.34,732.46 L457.10,729.60 L458.85,726.78 L460.59,723.99 L462.32,721.23 L464.04,718.50 L465.75,715.80 L467.45,713.13 L469.13,710.50 L470.80,707.90 L472.46,705.33 L474.11,702.80 L475.74,700.31 L477.36,697.85 L478.96,695.43 L480.55,693.04 L482.13,690.70 L483.69,688.39 L485.23,686.12 L486.75,683.90 L488.26,681.71 L489.76,679.56 L491.23,677.46 L492.69,675.39 L494.13,673.37 L495.55,671.39 L496.95,669.46 L498.33,667.57 L499.69,665.72 L501.03,663.92 L502.35,662.16 L503.66,660.45 L504.94,658.79 L506.20,657.17 L507.43,655.60 L508.65,654.07 L509.84,652.60 L511.01,651.17 L512.16,649.79 L513.29,648.46 L514.39,647.18 L515.47,645.95 L516.52,644.76 L517.55,643.63 L518.56,642.55 L519.54,641.52 L520.50,640.54 L521.43,639.61 L522.34,638.73 L523.22,637.90 L524.07,637.12 L524.90,636.40 L525.70,635.73 L526.48,635.11 L527.23,634.54 L527.95,634.03 L528.65,633.57 L529.32,633.16 L529.96,632.80 L530.58,632.50 L531.16,632.25 L531.72,632.05 L532.25,631.91 L532.76,631.82 L533.23,631.78 L533.68,631.79 L534.10,631.86 L534.49,631.99 L534.85,632.16 L535.18,632.39 L535.49,632.67 L535.77,633.00 L536.01,633.39 L536.23,633.83 L536.42,634.32 L536.58,634.87 L536.71,635.47 L536.81,636.12 L536.89,636.82 L536.93,637.57 L536.94,638.38Z" fill="none" stroke="#ED8775" stroke-width="2.1" stroke-linejoin="round"/>
<path d="M381.88,858.24 L381.88,858.70 L381.87,859.16 L381.85,859.61 L381.82,860.05 L381.78,860.48 L381.74,860.91 L381.69,861.34 L381.63,861.75 L381.57,862.16 L381.49,862.56 L381.41,862.96 L381.32,863.35 L381.23,863.73 L381.12,864.10 L381.01,864.46 L380.89,864.82 L380.76,865.17 L380.63,865.52 L380.49,865.85 L380.34,866.18 L380.18,866.50 L380.02,866.81 L379.85,867.11 L379.67,867.41 L379.48,867.69 L379.29,867.97 L379.09,868.24 L378.88,868.50 L378.67,868.76 L378.45,869.00 L378.22,869.24 L377.98,869.46 L377.74,869.68 L377.49,869.89 L377.24,870.09 L376.98,870.28 L376.71,870.47 L376.43,870.64 L376.15,870.80 L375.87,870.96 L375.57,871.11 L375.27,871.24 L374.96,871.37 L374.65,871.49 L374.33,871.60 L374.01,871.70 L373.68,871.79 L373.34,871.87 L373.00,871.94 L372.66,872.01 L372.30,872.06 L371.94,872.10 L371.58,872.14 L371.21,872.16 L370.84,872.18 L370.46,872.19 L370.08,872.18 L369.69,872.17 L369.29,872.15 L368.90,872.12 L368.49,872.08 L368.09,872.03 L367.68,871.97 L367.26,871.90 L366.84,871.82 L366.42,871.73 L365.99,871.63 L365.56,871.53 L365.12,871.41 L364.68,871.29 L364.24,871.15 L363.79,871.01 L363.34,870.86 L362.89,870.69 L362.44,870.52 L361.98,870.34 L361.52,870.16 L361.05,869.96 L360.59,869.75 L360.12,869.54 L359.64,869.31 L359.17,869.08 L358.69,868.84 L358.22,868.59 L357.74,868.33 L357.25,868.06 L356.77,867.79 L356.29,867.50 L355.80,867.21 L355.31,866.91 L354.82,866.60 L354.33,866.28 L353.84,865.96 L353.35,865.63 L352.85,865.29 L352.36,864.94 L351.87,864.58 L351.37,864.22 L350.88,863.85 L350.38,863.47 L349.89,863.08 L349.39,862.69 L348.90,862.29 L348.41,861.89 L347.91,861.47 L347.42,861.05 L346.93,860.62 L346.44,860.19 L345.95,859.75 L345.46,859.30 L344.97,858.85 L344.48,858.39 L344.00,857.93 L343.51,857.46 L343.03,856.98 L342.55,856.50 L342.07,856.01 L341.60,855.52 L341.12,855.02 L340.65,854.51 L340.18,854.00 L339.71,853.49 L339.25,852.97 L338.79,852.45 L338.33,851.92 L337.87,851.39 L337.42,850.85 L336.97,850.31 L336.53,849.76 L336.08,849.21 L335.64,848.66 L335.21,848.11 L334.78,847.55 L334.35,846.98 L333.93,846.42 L333.51,845.85 L333.09,845.27 L332.68,844.70 L332.27,844.12 L331.87,843.54 L331.47,842.96 L331.08,842.37 L330.69,841.79 L330.31,841.20 L329.93,840.61 L329.55,840.01 L329.19,839.42 L328.82,838.82 L328.46,838.23 L328.11,837.63 L327.76,837.03 L327.42,836.43 L327.09,835.83 L326.76,835.23 L326.43,834.63 L326.11,834.03 L325.80,833.43 L325.50,832.83 L325.20,832.23 L324.90,831.63 L324.61,831.03 L324.33,830.43 L324.06,829.83 L323.79,829.24 L323.53,828.64 L323.27,828.05 L323.02,827.45 L322.78,826.86 L322.55,826.27 L322.32,825.68 L322.10,825.10 L321.88,824.51 L321.68,823.93 L321.48,823.35 L321.28,822.78 L321.10,822.21 L320.92,821.63 L320.75,821.07 L320.58,820.50 L320.43,819.94 L320.28,819.38 L320.14,818.83 L320.00,818.28 L319.88,817.73 L319.76,817.19 L319.64,816.65 L319.54,816.12 L319.44,815.59 L319.36,815.07 L319.27,814.55 L319.20,814.03 L319.13,813.52 L319.08,813.01 L319.03,812.51 L318.98,812.02 L318.95,811.53 L318.92,811.04 L318.90,810.57 L318.89,810.09 L318.89,809.63 L318.89,809.16 L318.90,808.71 L318.92,808.26 L318.95,807.82 L318.98,807.38 L319.03,806.95 L319.08,806.53 L319.13,806.12 L319.20,805.71 L319.27,805.30 L319.36,804.91 L319.44,804.52 L319.54,804.14 L319.64,803.77 L319.76,803.40 L319.88,803.04 L320.00,802.69 L320.14,802.35 L320.28,802.02 L320.43,801.69 L320.58,801.37 L320.75,801.06 L320.92,800.75 L321.10,800.46 L321.28,800.17 L321.48,799.89 L321.68,799.62 L321.88,799.36 L322.10,799.11 L322.32,798.87 L322.55,798.63 L322.78,798.40 L323.02,798.18 L323.27,797.98 L323.53,797.77 L323.79,797.58 L324.06,797.40 L324.33,797.23 L324.61,797.06 L324.90,796.91 L325.20,796.76 L325.50,796.62 L325.80,796.50 L326.11,796.38 L326.43,796.27 L326.76,796.17 L327.09,796.08 L327.42,795.99 L327.76,795.92 L328.11,795.86 L328.46,795.81 L328.82,795.76 L329.19,795.73 L329.55,795.70 L329.93,795.69 L330.31,795.68 L330.69,795.68 L331.08,795.70 L331.47,795.72 L331.87,795.75 L332.27,795.79 L332.68,795.84 L333.09,795.90 L333.51,795.97 L333.93,796.05 L334.35,796.14 L334.78,796.23 L335.21,796.34 L335.64,796.46 L336.08,796.58 L336.53,796.71 L336.97,796.86 L337.42,797.01 L337.87,797.17 L338.33,797.34 L338.79,797.52 L339.25,797.71 L339.71,797.91 L340.18,798.12 L340.65,798.33 L341.12,798.56 L341.60,798.79 L342.07,799.03 L342.55,799.28 L343.03,799.54 L343.51,799.81 L344.00,800.08 L344.48,800.37 L344.97,800.66 L345.46,800.96 L345.95,801.27 L346.44,801.58 L346.93,801.91 L347.42,802.24 L347.91,802.58 L348.41,802.93 L348.90,803.28 L349.39,803.65 L349.89,804.02 L350.38,804.40 L350.88,804.78 L351.37,805.18 L351.87,805.57 L352.36,805.98 L352.85,806.40 L353.35,806.82 L353.84,807.24 L354.33,807.68 L354.82,808.12 L355.31,808.56 L355.80,809.02 L356.29,809.48 L356.77,809.94 L357.25,810.41 L357.74,810.89 L358.22,811.37 L358.69,811.86 L359.17,812.35 L359.64,812.85 L360.12,813.35 L360.59,813.86 L361.05,814.38 L361.52,814.90 L361.98,815.42 L362.44,815.95 L362.89,816.48 L363.34,817.02 L363.79,817.56 L364.24,818.10 L364.68,818.65 L365.12,819.20 L365.56,819.76 L365.99,820.32 L366.42,820.88 L366.84,821.45 L367.26,822.02 L367.68,822.59 L368.09,823.17 L368.49,823.75 L368.90,824.33 L369.29,824.91 L369.69,825.49 L370.08,826.08 L370.46,826.67 L370.84,827.26 L371.21,827.85 L371.58,828.45 L371.94,829.04 L372.30,829.64 L372.66,830.24 L373.00,830.83 L373.34,831.43 L373.68,832.03 L374.01,832.63 L374.33,833.23 L374.65,833.84 L374.96,834.44 L375.27,835.04 L375.57,835.64 L375.87,836.24 L376.15,836.84 L376.43,837.44 L376.71,838.03 L376.98,838.63 L377.24,839.23 L377.49,839.82 L377.74,840.41 L377.98,841.01 L378.22,841.59 L378.45,842.18 L378.67,842.77 L378.88,843.35 L379.09,843.93 L379.29,844.51 L379.48,845.09 L379.67,845.66 L379.85,846.23 L380.02,846.80 L380.18,847.36 L380.34,847.92 L380.49,848.48 L380.63,849.04 L380.76,849.59 L380.89,850.13 L381.01,850.67 L381.12,851.21 L381.23,851.75 L381.32,852.28 L381.41,852.80 L381.49,853.32 L381.57,853.84 L381.63,854.35 L381.69,854.85 L381.74,855.35 L381.78,855.85 L381.82,856.34 L381.85,856.82 L381.87,857.30 L381.88,857.77 L381.88,858.24Z" fill="none" stroke="#6B79A0" stroke-width="2.1" stroke-linejoin="round"/>
<path d="M365.33,914.19 L365.32,914.28 L365.30,914.36 L365.26,914.44 L365.22,914.51 L365.15,914.57 L365.07,914.63 L364.98,914.68 L364.88,914.72 L364.76,914.76 L364.62,914.80 L364.48,914.82 L364.31,914.84 L364.14,914.86 L363.95,914.86 L363.75,914.87 L363.53,914.86 L363.30,914.85 L363.05,914.83 L362.80,914.81 L362.53,914.78 L362.24,914.74 L361.94,914.70 L361.63,914.65 L361.31,914.60 L360.97,914.54 L360.62,914.47 L360.26,914.39 L359.88,914.31 L359.49,914.23 L359.09,914.14 L358.67,914.04 L358.25,913.93 L357.81,913.82 L357.35,913.71 L356.89,913.59 L356.41,913.46 L355.93,913.32 L355.43,913.18 L354.92,913.04 L354.39,912.89 L353.86,912.73 L353.31,912.56 L352.76,912.40 L352.19,912.22 L351.61,912.04 L351.02,911.85 L350.42,911.66 L349.81,911.47 L349.19,911.26 L348.56,911.06 L347.92,910.84 L347.26,910.62 L346.60,910.40 L345.93,910.17 L345.26,909.94 L344.57,909.70 L343.87,909.46 L343.16,909.21 L342.45,908.95 L341.72,908.69 L340.99,908.43 L340.25,908.16 L339.50,907.89 L338.75,907.61 L337.99,907.33 L337.22,907.04 L336.44,906.75 L335.65,906.46 L334.86,906.16 L334.06,905.86 L333.26,905.55 L332.45,905.24 L331.63,904.92 L330.81,904.60 L329.98,904.28 L329.15,903.95 L328.31,903.62 L327.46,903.29 L326.61,902.95 L325.76,902.61 L324.90,902.27 L324.04,901.92 L323.18,901.57 L322.31,901.22 L321.43,900.86 L320.56,900.51 L319.68,900.14 L318.80,899.78 L317.91,899.41 L317.02,899.04 L316.13,898.67 L315.24,898.30 L314.35,897.92 L313.46,897.55 L312.56,897.17 L311.66,896.78 L310.76,896.40 L309.87,896.01 L308.97,895.63 L308.07,895.24 L307.17,894.85 L306.27,894.46 L305.37,894.06 L304.47,893.67 L303.57,893.28 L302.68,892.88 L301.78,892.48 L300.89,892.09 L300.00,891.69 L299.11,891.29 L298.22,890.89 L297.34,890.49 L296.45,890.09 L295.58,889.69 L294.70,889.29 L293.83,888.89 L292.96,888.49 L292.09,888.09 L291.23,887.69 L290.37,887.29 L289.52,886.89 L288.67,886.50 L287.83,886.10 L286.99,885.70 L286.15,885.31 L285.33,884.91 L284.50,884.52 L283.69,884.13 L282.88,883.74 L282.07,883.35 L281.27,882.96 L280.48,882.57 L279.70,882.19 L278.92,881.81 L278.15,881.43 L277.38,881.05 L276.63,880.67 L275.88,880.30 L275.14,879.92 L274.41,879.55 L273.69,879.19 L272.97,878.82 L272.26,878.46 L271.57,878.10 L270.88,877.74 L270.20,877.39 L269.53,877.04 L268.87,876.69 L268.22,876.34 L267.58,876.00 L266.95,875.66 L266.32,875.33 L265.71,875.00 L265.11,874.67 L264.52,874.34 L263.95,874.02 L263.38,873.71 L262.82,873.39 L262.28,873.08 L261.74,872.78 L261.22,872.48 L260.71,872.18 L260.21,871.89 L259.72,871.60 L259.24,871.32 L258.78,871.04 L258.33,870.76 L257.89,870.49 L257.46,870.23 L257.05,869.96 L256.64,869.71 L256.25,869.46 L255.88,869.21 L255.51,868.97 L255.16,868.73 L254.83,868.50 L254.50,868.28 L254.19,868.06 L253.89,867.84 L253.61,867.63 L253.34,867.42 L253.08,867.23 L252.83,867.03 L252.60,866.84 L252.39,866.66 L252.18,866.48 L251.99,866.31 L251.82,866.15 L251.66,865.98 L251.51,865.83 L251.38,865.68 L251.26,865.54 L251.15,865.40 L251.06,865.27 L250.98,865.15 L250.92,865.03 L250.87,864.91 L250.83,864.81 L250.81,864.71 L250.81,864.61 L250.81,864.52 L250.83,864.44 L250.87,864.36 L250.92,864.29 L250.98,864.23 L251.06,864.17 L251.15,864.12 L251.26,864.08 L251.38,864.04 L251.51,864.00 L251.66,863.98 L251.82,863.96 L251.99,863.94 L252.18,863.94 L252.39,863.93 L252.60,863.94 L252.83,863.95 L253.08,863.97 L253.34,863.99 L253.61,864.02 L253.89,864.06 L254.19,864.10 L254.50,864.15 L254.83,864.20 L255.16,864.26 L255.51,864.33 L255.88,864.41 L256.25,864.49 L256.64,864.57 L257.05,864.66 L257.46,864.76 L257.89,864.87 L258.33,864.98 L258.78,865.09 L259.24,865.21 L259.72,865.34 L260.21,865.48 L260.71,865.62 L261.22,865.76 L261.74,865.91 L262.28,866.07 L262.82,866.24 L263.38,866.40 L263.95,866.58 L264.52,866.76 L265.11,866.95 L265.71,867.14 L266.32,867.33 L266.95,867.54 L267.58,867.74 L268.22,867.96 L268.87,868.18 L269.53,868.40 L270.20,868.63 L270.88,868.86 L271.57,869.10 L272.26,869.34 L272.97,869.59 L273.69,869.85 L274.41,870.11 L275.14,870.37 L275.88,870.64 L276.63,870.91 L277.38,871.19 L278.15,871.47 L278.92,871.76 L279.70,872.05 L280.48,872.34 L281.27,872.64 L282.07,872.94 L282.88,873.25 L283.69,873.56 L284.50,873.88 L285.33,874.20 L286.15,874.52 L286.99,874.85 L287.83,875.18 L288.67,875.51 L289.52,875.85 L290.37,876.19 L291.23,876.53 L292.09,876.88 L292.96,877.23 L293.83,877.58 L294.70,877.94 L295.58,878.29 L296.45,878.66 L297.34,879.02 L298.22,879.39 L299.11,879.76 L300.00,880.13 L300.89,880.50 L301.78,880.88 L302.68,881.25 L303.57,881.63 L304.47,882.02 L305.37,882.40 L306.27,882.79 L307.17,883.17 L308.07,883.56 L308.97,883.95 L309.87,884.34 L310.76,884.74 L311.66,885.13 L312.56,885.52 L313.46,885.92 L314.35,886.32 L315.24,886.71 L316.13,887.11 L317.02,887.51 L317.91,887.91 L318.80,888.31 L319.68,888.71 L320.56,889.11 L321.43,889.51 L322.31,889.91 L323.18,890.31 L324.04,890.71 L324.90,891.11 L325.76,891.51 L326.61,891.91 L327.46,892.30 L328.31,892.70 L329.15,893.10 L329.98,893.49 L330.81,893.89 L331.63,894.28 L332.45,894.67 L333.26,895.06 L334.06,895.45 L334.86,895.84 L335.65,896.23 L336.44,896.61 L337.22,896.99 L337.99,897.37 L338.75,897.75 L339.50,898.13 L340.25,898.50 L340.99,898.88 L341.72,899.25 L342.45,899.61 L343.16,899.98 L343.87,900.34 L344.57,900.70 L345.26,901.06 L345.93,901.41 L346.60,901.76 L347.26,902.11 L347.92,902.46 L348.56,902.80 L349.19,903.14 L349.81,903.47 L350.42,903.80 L351.02,904.13 L351.61,904.46 L352.19,904.78 L352.76,905.09 L353.31,905.41 L353.86,905.72 L354.39,906.02 L354.92,906.32 L355.43,906.62 L355.93,906.91 L356.41,907.20 L356.89,907.48 L357.35,907.76 L357.81,908.04 L358.25,908.31 L358.67,908.57 L359.09,908.84 L359.49,909.09 L359.88,909.34 L360.26,909.59 L360.62,909.83 L360.97,910.07 L361.31,910.30 L361.63,910.52 L361.94,910.74 L362.24,910.96 L362.53,911.17 L362.80,911.38 L363.05,911.57 L363.30,911.77 L363.53,911.96 L363.75,912.14 L363.95,912.32 L364.14,912.49 L364.31,912.65 L364.48,912.82 L364.62,912.97 L364.76,913.12 L364.88,913.26 L364.98,913.40 L365.07,913.53 L365.15,913.65 L365.22,913.77 L365.26,913.89 L365.30,913.99 L365.32,914.09 L365.33,914.19Z" fill="none" stroke="#7BBFAF" stroke-width="2.2" stroke-linejoin="round"/>
<line x1="135.9" y1="864.6" x2="1424" y2="864.6" stroke="#6c6c6c" stroke-width="4.2" stroke-dasharray="7 7.31"/>
<line x1="672.45" y1="139.9" x2="672.45" y2="1276" stroke="#6c6c6c" stroke-width="4.2" stroke-dasharray="7 7.31"/>
<line x1="668.67" y1="1048.23" x2="747.20" y2="978.60" stroke="#000" stroke-width="2.5" stroke-dasharray="11 12.9"/>
<line x1="668.67" y1="1048.23" x2="659.20" y2="1024.50" stroke="#000" stroke-width="2.5" stroke-dasharray="11 12.9"/>
<line x1="668.67" y1="1048.23" x2="599.60" y2="1141.60" stroke="#000" stroke-width="2.5" stroke-dasharray="11 12.9"/>
<line x1="758.82" y1="921.05" x2="453.75" y2="769.60" stroke="#000" stroke-width="2.5" stroke-dasharray="11 12.9"/>
<line x1="758.82" y1="921.05" x2="889.45" y2="957.95" stroke="#000" stroke-width="2.5" stroke-dasharray="11 12.9"/>
<line x1="758.82" y1="921.05" x2="933.25" y2="1035.60" stroke="#000" stroke-width="2.5" stroke-dasharray="11 12.9"/>
<line x1="1220.13" y1="944.13" x2="1296.40" y2="855.60" stroke="#000" stroke-width="2.5" stroke-dasharray="11 12.9"/>
<line x1="1220.13" y1="944.13" x2="1199.80" y2="891.30" stroke="#000" stroke-width="2.5" stroke-dasharray="11 12.9"/>
<line x1="1220.13" y1="944.13" x2="1164.20" y2="1085.50" stroke="#000" stroke-width="2.5" stroke-dasharray="11 12.9"/>
<line x1="981.90" y1="567.47" x2="749.80" y2="249.70" stroke="#000" stroke-width="2.5" stroke-dasharray="11 12.9"/>
<line x1="981.90" y1="567.47" x2="903.50" y2="751.20" stroke="#000" stroke-width="2.5" stroke-dasharray="11 12.9"/>
<line x1="981.90" y1="567.47" x2="1292.40" y2="701.50" stroke="#000" stroke-width="2.5" stroke-dasharray="11 12.9"/>
<line x1="418.85" y1="847.40" x2="523.10" y2="645.50" stroke="#000" stroke-width="2.5" stroke-dasharray="11 12.9"/>
<line x1="418.85" y1="847.40" x2="400.30" y2="929.40" stroke="#000" stroke-width="2.5" stroke-dasharray="11 12.9"/>
<line x1="418.85" y1="847.40" x2="333.15" y2="967.30" stroke="#000" stroke-width="2.5" stroke-dasharray="11 12.9"/>
<line x1="350.38" y1="833.93" x2="323.40" y2="801.55" stroke="#000" stroke-width="2.5" stroke-dasharray="11 12.9"/>
<line x1="350.38" y1="833.93" x2="374.55" y2="836.45" stroke="#000" stroke-width="2.5" stroke-dasharray="11 12.9"/>
<line x1="350.38" y1="833.93" x2="353.20" y2="863.80" stroke="#000" stroke-width="2.5" stroke-dasharray="11 12.9"/>
<line x1="308.07" y1="889.40" x2="256.80" y2="865.50" stroke="#000" stroke-width="2.5" stroke-dasharray="11 12.9"/>
<line x1="308.07" y1="889.40" x2="319.20" y2="899.60" stroke="#000" stroke-width="2.5" stroke-dasharray="11 12.9"/>
<line x1="308.07" y1="889.40" x2="348.20" y2="903.10" stroke="#000" stroke-width="2.5" stroke-dasharray="11 12.9"/>
<circle cx="747.20" cy="978.60" r="12.7" fill="#E64B35" stroke="#D23A24" stroke-width="1.2"/>
<circle cx="659.20" cy="1024.50" r="12.7" fill="#E64B35" stroke="#D23A24" stroke-width="1.2"/>
<circle cx="599.60" cy="1141.60" r="12.7" fill="#E64B35" stroke="#D23A24" stroke-width="1.2"/>
<circle cx="453.75" cy="769.60" r="12.7" fill="#4DBBD5" stroke="#2FA5B6" stroke-width="1.2"/>
<circle cx="889.45" cy="957.95" r="12.7" fill="#4DBBD5" stroke="#2FA5B6" stroke-width="1.2"/>
<circle cx="933.25" cy="1035.60" r="12.7" fill="#4DBBD5" stroke="#2FA5B6" stroke-width="1.2"/>
<circle cx="1296.40" cy="855.60" r="12.7" fill="#00A087" stroke="#0B8668" stroke-width="1.2"/>
<circle cx="1199.80" cy="891.30" r="12.7" fill="#00A087" stroke="#0B8668" stroke-width="1.2"/>
<circle cx="1164.20" cy="1085.50" r="12.7" fill="#00A087" stroke="#0B8668" stroke-width="1.2"/>
<circle cx="749.80" cy="249.70" r="12.7" fill="#3C5488" stroke="#1D2A5E" stroke-width="1.2"/>
<circle cx="903.50" cy="751.20" r="12.7" fill="#3C5488" stroke="#1D2A5E" stroke-width="1.2"/>
<circle cx="1292.40" cy="701.50" r="12.7" fill="#3C5488" stroke="#1D2A5E" stroke-width="1.2"/>
<circle cx="523.10" cy="645.50" r="12.7" fill="#F39B7F" stroke="#ED8775" stroke-width="1.2"/>
<circle cx="400.30" cy="929.40" r="12.7" fill="#F39B7F" stroke="#ED8775" stroke-width="1.2"/>
<circle cx="333.15" cy="967.30" r="12.7" fill="#F39B7F" stroke="#ED8775" stroke-width="1.2"/>
<circle cx="323.40" cy="801.55" r="12.7" fill="#8491B4" stroke="#6B79A0" stroke-width="1.2"/>
<circle cx="374.55" cy="836.45" r="12.7" fill="#8491B4" stroke="#6B79A0" stroke-width="1.2"/>
<circle cx="353.20" cy="863.80" r="12.7" fill="#8491B4" stroke="#6B79A0" stroke-width="1.2"/>
<circle cx="256.80" cy="865.50" r="12.7" fill="#91D1C2" stroke="#7BBFAF" stroke-width="1.2"/>
<circle cx="319.20" cy="899.60" r="12.7" fill="#91D1C2" stroke="#7BBFAF" stroke-width="1.2"/>
<circle cx="348.20" cy="903.10" r="12.7" fill="#91D1C2" stroke="#7BBFAF" stroke-width="1.2"/>
<rect x="137" y="140.7" width="1288" height="1135.6" fill="none" stroke="#000" stroke-width="2.4"/>
<line x1="121" y1="1228.04" x2="137" y2="1228.04" stroke="#000" stroke-width="2"/>
<text transform="translate(113.80,1238.64) scale(0.985,1)" font-size="33.8" text-anchor="end" fill="#000">-0.4</text>
<line x1="121" y1="1137.43" x2="137" y2="1137.43" stroke="#000" stroke-width="2"/>
<text transform="translate(113.80,1148.03) scale(0.985,1)" font-size="33.8" text-anchor="end" fill="#000">-0.3</text>
<line x1="121" y1="1046.82" x2="137" y2="1046.82" stroke="#000" stroke-width="2"/>
<text transform="translate(113.80,1057.42) scale(0.985,1)" font-size="33.8" text-anchor="end" fill="#000">-0.2</text>
<line x1="121" y1="956.21" x2="137" y2="956.21" stroke="#000" stroke-width="2"/>
<text transform="translate(113.80,966.81) scale(0.985,1)" font-size="33.8" text-anchor="end" fill="#000">-0.1</text>
<line x1="121" y1="865.60" x2="137" y2="865.60" stroke="#000" stroke-width="2"/>
<text transform="translate(113.40,876.20) scale(0.985,1)" font-size="33.8" text-anchor="end" fill="#000">0</text>
<line x1="121" y1="774.99" x2="137" y2="774.99" stroke="#000" stroke-width="2"/>
<text transform="translate(115.30,785.59) scale(0.985,1)" font-size="33.8" text-anchor="end" fill="#000">0.1</text>
<line x1="121" y1="684.38" x2="137" y2="684.38" stroke="#000" stroke-width="2"/>
<text transform="translate(115.30,694.98) scale(0.985,1)" font-size="33.8" text-anchor="end" fill="#000">0.2</text>
<line x1="121" y1="593.77" x2="137" y2="593.77" stroke="#000" stroke-width="2"/>
<text transform="translate(115.30,604.37) scale(0.985,1)" font-size="33.8" text-anchor="end" fill="#000">0.3</text>
<line x1="121" y1="503.16" x2="137" y2="503.16" stroke="#000" stroke-width="2"/>
<text transform="translate(115.30,513.76) scale(0.985,1)" font-size="33.8" text-anchor="end" fill="#000">0.4</text>
<line x1="121" y1="412.55" x2="137" y2="412.55" stroke="#000" stroke-width="2"/>
<text transform="translate(115.30,423.15) scale(0.985,1)" font-size="33.8" text-anchor="end" fill="#000">0.5</text>
<line x1="121" y1="321.94" x2="137" y2="321.94" stroke="#000" stroke-width="2"/>
<text transform="translate(115.30,332.54) scale(0.985,1)" font-size="33.8" text-anchor="end" fill="#000">0.6</text>
<line x1="121" y1="231.33" x2="137" y2="231.33" stroke="#000" stroke-width="2"/>
<text transform="translate(115.30,241.93) scale(0.985,1)" font-size="33.8" text-anchor="end" fill="#000">0.7</text>
<line x1="121" y1="140.72" x2="137" y2="140.72" stroke="#000" stroke-width="2"/>
<text transform="translate(115.30,151.32) scale(0.985,1)" font-size="33.8" text-anchor="end" fill="#000">0.8</text>
<line x1="137.02" y1="1276" x2="137.02" y2="1288.5" stroke="#000" stroke-width="2"/>
<text transform="translate(136.82,1319.8) scale(0.985,1)" font-size="33.8" text-anchor="middle" fill="#000">-0.5</text>
<line x1="244.35" y1="1276" x2="244.35" y2="1288.5" stroke="#000" stroke-width="2"/>
<text transform="translate(244.15,1319.8) scale(0.985,1)" font-size="33.8" text-anchor="middle" fill="#000">-0.4</text>
<line x1="351.68" y1="1276" x2="351.68" y2="1288.5" stroke="#000" stroke-width="2"/>
<text transform="translate(351.48,1319.8) scale(0.985,1)" font-size="33.8" text-anchor="middle" fill="#000">-0.3</text>
<line x1="459.01" y1="1276" x2="459.01" y2="1288.5" stroke="#000" stroke-width="2"/>
<text transform="translate(458.81,1319.8) scale(0.985,1)" font-size="33.8" text-anchor="middle" fill="#000"><tspan fill="#c8141e" stroke="#c8141e">-</tspan>0.2</text>
<line x1="566.34" y1="1276" x2="566.34" y2="1288.5" stroke="#000" stroke-width="2"/>
<text transform="translate(566.14,1319.8) scale(0.985,1)" font-size="33.8" text-anchor="middle" fill="#000">-0.1</text>
<line x1="673.67" y1="1276" x2="673.67" y2="1288.5" stroke="#000" stroke-width="2"/>
<text transform="translate(673.47,1319.8) scale(0.985,1)" font-size="33.8" text-anchor="middle" fill="#000">0</text>
<line x1="781.00" y1="1276" x2="781.00" y2="1288.5" stroke="#000" stroke-width="2"/>
<text transform="translate(780.80,1319.8) scale(0.985,1)" font-size="33.8" text-anchor="middle" fill="#000">0.1</text>
<line x1="888.33" y1="1276" x2="888.33" y2="1288.5" stroke="#000" stroke-width="2"/>
<text transform="translate(888.13,1319.8) scale(0.985,1)" font-size="33.8" text-anchor="middle" fill="#000">0.2</text>
<line x1="995.66" y1="1276" x2="995.66" y2="1288.5" stroke="#000" stroke-width="2"/>
<text transform="translate(995.46,1319.8) scale(0.985,1)" font-size="33.8" text-anchor="middle" fill="#000">0.3</text>
<line x1="1102.99" y1="1276" x2="1102.99" y2="1288.5" stroke="#000" stroke-width="2"/>
<text transform="translate(1102.79,1319.8) scale(0.985,1)" font-size="33.8" text-anchor="middle" fill="#000">0.4</text>
<line x1="1210.32" y1="1276" x2="1210.32" y2="1288.5" stroke="#000" stroke-width="2"/>
<text transform="translate(1210.12,1319.8) scale(0.985,1)" font-size="33.8" text-anchor="middle" fill="#000">0.5</text>
<line x1="1317.65" y1="1276" x2="1317.65" y2="1288.5" stroke="#000" stroke-width="2"/>
<text transform="translate(1317.45,1319.8) scale(0.985,1)" font-size="33.8" text-anchor="middle" fill="#000">0.6</text>
<line x1="1424.98" y1="1276" x2="1424.98" y2="1288.5" stroke="#000" stroke-width="2"/>
<text transform="translate(1424.78,1319.8) scale(0.985,1)" font-size="33.8" text-anchor="middle" fill="#000">0.7</text>
<path d="M181.6,1310.5 L184.4,1303.5" stroke="#3fd9cf" stroke-width="1.3" fill="none" opacity="0.8"/>
<circle cx="698.2" cy="1308.6" r="0.9" fill="#4fb6bf" opacity="0.7"/><circle cx="707.4" cy="1308.4" r="0.8" fill="#8fb8b0" opacity="0.5"/>
<text x="713.1" y="1362" font-size="38.1" font-weight="bold" fill="#000">NMDS1</text>
<text transform="translate(31.8,749.4) rotate(-90)" font-size="38.1" font-weight="bold" fill="#000">NMDS2</text>
<circle cx="1478.9" cy="151.45" r="15.4" fill="#E64B35" stroke="#D23A24" stroke-width="1"/>
<text x="1502" y="160.20" font-size="29.2" fill="#000">SU</text>
<circle cx="1478.9" cy="198.00" r="15.4" fill="#4DBBD5" stroke="#2FA5B6" stroke-width="1"/>
<text x="1502" y="206.57" font-size="29.2" fill="#000">PI</text>
<circle cx="1478.9" cy="244.55" r="15.4" fill="#00A087" stroke="#0B8668" stroke-width="1"/>
<text x="1502" y="252.94" font-size="29.2" fill="#000">CB</text>
<circle cx="1478.9" cy="291.10" r="15.4" fill="#3C5488" stroke="#1D2A5E" stroke-width="1"/>
<text x="1502" y="299.31" font-size="29.2" fill="#000">PF</text>
<circle cx="1478.9" cy="337.65" r="15.4" fill="#F39B7F" stroke="#ED8775" stroke-width="1"/>
<text x="1502" y="345.68" font-size="29.2" fill="#000">UL</text>
<circle cx="1478.9" cy="384.20" r="15.4" fill="#8491B4" stroke="#6B79A0" stroke-width="1"/>
<text x="1502" y="392.05" font-size="29.2" fill="#000">SH</text>
<circle cx="1478.9" cy="430.75" r="15.4" fill="#91D1C2" stroke="#7BBFAF" stroke-width="1"/>
<text x="1502" y="438.42" font-size="29.2" fill="#000">GR</text>
</svg></body></html>
